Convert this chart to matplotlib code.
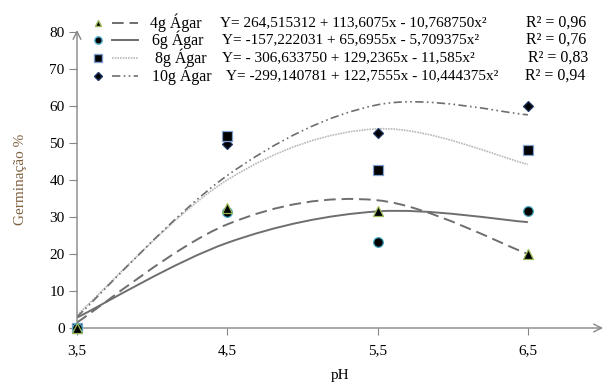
import matplotlib
matplotlib.use("Agg")
import matplotlib.pyplot as plt
from matplotlib.path import Path
from matplotlib.patches import PathPatch
from matplotlib.lines import Line2D

plt.rcParams['font.family'] = ['Liberation Serif', 'DejaVu Serif']

# data
ph = [3.5, 4.5, 5.5, 6.5]
names = ["4g Ágar", "6g Ágar", "8g Ágar", "10g Ágar"]
equations = ["Y= 264,515312 + 113,6075x - 10,768750x²",
             "Y= -157,222031 + 65,6955x - 5,709375x²",
             "Y= - 306,633750 + 129,2365x - 11,585x²",
             "Y= -299,140781 + 122,7555x - 10,444375x²"]
r2 = ["R² = 0,96", "R² = 0,76", "R² = 0,83", "R² = 0,94"]

obs_4g = [0, 32.5, 31.5, 20]
obs_6g = [0, 31.3, 23.2, 31.5]
obs_8g = [0, 52, 42.6, 48]
obs_10g = [0, 49.6, 52.6, 60]

fit_4g = [1.5, 28, 34.5, 20]
fit_6g = [2.8, 23, 31.5, 28.6]
fit_8g = [3.5, 40, 53.8, 44.2]
fit_10g = [3.0, 41.2, 60.3, 57.6]

observed = [obs_4g, obs_6g, obs_8g, obs_10g]
fitted = [fit_4g, fit_6g, fit_8g, fit_10g]

markers = ['^', 'o', 's', 'D']
msizes = [6.5, 7, 7, 5.2]
edges = ['#9bbb59', '#4bacc6', '#7f9fd0', '#1f3864']
lstyles = [(0, (6, 3)), '-', (0, (1, 0.6)), (0, (5, 2, 1, 2, 1, 2))]
lcolors = ['#6e6e6e', '#6e6e6e', '#b8b8b8', '#6e6e6e']
lwidths = [1.4, 1.4, 1.2, 1.2]


def smooth_path(xs, ys):
    # Excel-like smoothed line: Catmull-Rom segments as cubic Bezier curves
    pts = list(zip(xs, ys))
    verts = [pts[0]]
    codes = [Path.MOVETO]
    n = len(pts)
    for i in range(n - 1):
        p0 = pts[max(i - 1, 0)]
        p1 = pts[i]
        p2 = pts[i + 1]
        p3 = pts[min(i + 2, n - 1)]
        c1 = (p1[0] + (p2[0] - p0[0]) / 6, p1[1] + (p2[1] - p0[1]) / 6)
        c2 = (p2[0] - (p3[0] - p1[0]) / 6, p2[1] - (p3[1] - p1[1]) / 6)
        verts += [c1, c2, p2]
        codes += [Path.CURVE4] * 3
    return Path(verts, codes)


fig = plt.figure(figsize=(6.04, 3.83), dpi=100)
ax = fig.add_axes([77 / 604, 1 - 328 / 383, (603 - 77) / 604, (328 - 30) / 383])

for i in range(4):
    patch = PathPatch(smooth_path(ph, fitted[i]), facecolor='none',
                      edgecolor=lcolors[i], linestyle=lstyles[i], lw=lwidths[i])
    ax.add_patch(patch)
for i in [3, 2, 1, 0]:
    ax.plot(ph, observed[i], linestyle='none', marker=markers[i], ms=msizes[i],
            mfc='black', mec=edges[i], mew=0.9, clip_on=False, zorder=5)

ax.set_xlim(3.5, 7.0)
ax.set_ylim(0, 80.5)
ax.set_xticks(ph)
ax.set_xticklabels(["3,5", "4,5", "5,5", "6,5"])
ax.set_yticks(range(0, 81, 10))
for s in ax.spines.values():
    s.set_visible(False)
ax.tick_params(axis='y', direction='out', length=6, color='#868686', labelsize=11, pad=3)
ax.tick_params(axis='x', direction='out', length=5, color='#868686', labelsize=11, pad=7)
ax.annotate('', xy=(0, 1), xytext=(0, 0), xycoords='axes fraction',
            arrowprops=dict(arrowstyle='->', color='#868686', lw=1.0, shrinkA=0, shrinkB=0,
                            mutation_scale=14))
ax.annotate('', xy=(1, 0), xytext=(0, 0), xycoords='axes fraction',
            arrowprops=dict(arrowstyle='->', color='#868686', lw=1.0, shrinkA=0, shrinkB=0,
                            mutation_scale=14))

ax.set_xlabel("pH", fontsize=11, labelpad=8)
ax.set_ylabel("Germinação %", fontsize=11, color='#7f6040', labelpad=16)

# legend drawn by hand, Excel style
rows = [23, 40, 58, 76]
name_x = [150, 152, 155, 152]
eq_x = [220, 222, 222, 226]
r2_x = [526, 526, 528, 525]
for i in range(4):
    yf = 1 - rows[i] / 383
    fig.add_artist(Line2D([98 / 604], [yf], marker=markers[i], ms=msizes[i] * 0.75,
                          mfc='black', mec=edges[i], linestyle='none',
                          transform=fig.transFigure))
    fig.add_artist(Line2D([112 / 604, 138 / 604], [yf, yf], color=lcolors[i],
                          linestyle=lstyles[i], lw=lwidths[i], transform=fig.transFigure))
    fig.text(name_x[i] / 604, yf, names[i], fontsize=11.5, va='center', ha='left')
    fig.text(eq_x[i] / 604, yf, equations[i], fontsize=11, va='center', ha='left')
    fig.text(r2_x[i] / 604, yf, r2[i], fontsize=11.5, va='center', ha='left')

fig.savefig("out.png", dpi=100)
